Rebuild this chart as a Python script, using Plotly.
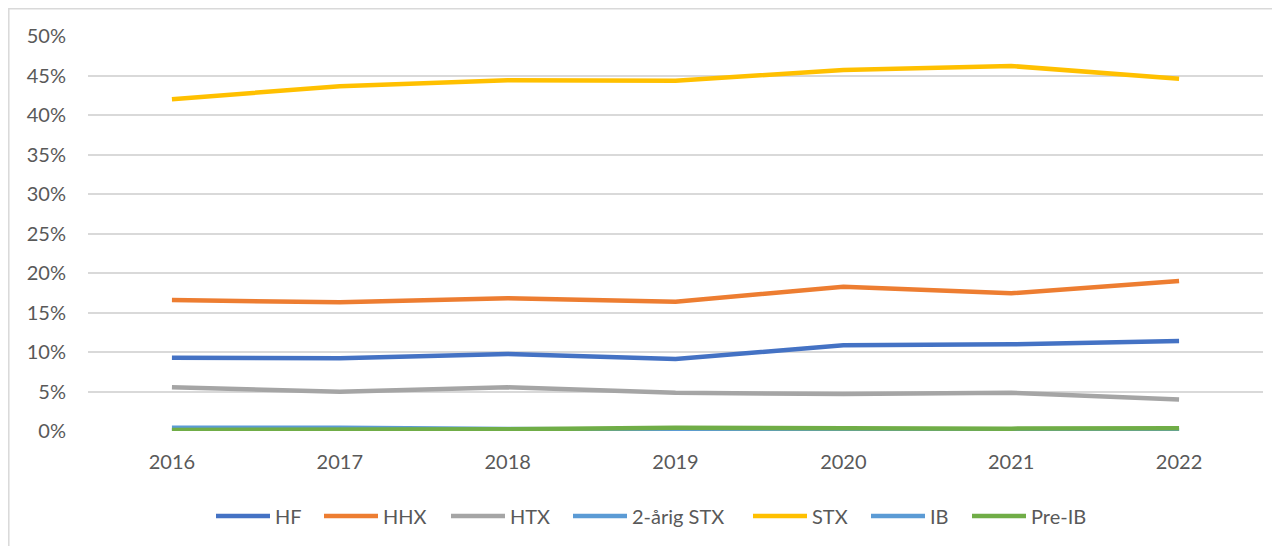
import plotly.graph_objects as go

years = ["2016", "2017", "2018", "2019", "2020", "2021", "2022"]
hf = [0.0928, 0.0920, 0.0975, 0.0910, 0.1084, 0.1098, 0.1139]
hhx = [0.1658, 0.1629, 0.1680, 0.1637, 0.1827, 0.1743, 0.1899]
htx = [0.0553, 0.0498, 0.0553, 0.0485, 0.0468, 0.0485, 0.0400]
stx2 = [0.0040, 0.0040, 0.0025, 0.0012, 0.0010, 0.0010, 0.0010]
stx = [0.4200, 0.4365, 0.4440, 0.4435, 0.4570, 0.4620, 0.4460]
ib = [0.0005, 0.0005, 0.0005, 0.0005, 0.0005, 0.0005, 0.0005]
preib = [0.0012, 0.0015, 0.0022, 0.0040, 0.0030, 0.0030, 0.0035]

names = ["HF", "HHX", "HTX", "2-årig STX", "STX", "IB", "Pre-IB"]
values = [hf, hhx, htx, stx2, stx, ib, preib]
colors = ["#4472C4", "#ED7D31", "#A5A5A5", "#5B9BD5", "#FFC000", "#5B9BD5", "#70AD47"]

FONT = "Lato"
TXT = "#595959"

# figure geometry (page is offset 8px by body margin)
W, H = 1272, 538
L, R, T, B = 80, 17, 28, 115
PW = W - L - R
PH = H - T - B

def px_x(px):
    return (px - 8 - L) / PW

def px_y(py):
    return (H - B - (py - 8)) / PH

fig = go.Figure()
for name, vals, col in zip(names, values, colors):
    fig.add_trace(go.Scatter(x=years, y=vals, name=name, mode="lines",
                             line=dict(color=col, width=4.5), showlegend=False))

# custom legend (page pixel positions of sample start)
leg_sample_x = [216, 324, 451, 573, 753, 871, 972]
leg_sample_w = 54
leg_y = 516
shapes = [dict(type="rect", xref="paper", yref="paper",
               x0=px_x(8.8), x1=1.2, y0=-0.5, y1=px_y(8.8),
               line=dict(color="#D9D9D9", width=1.5), fillcolor="rgba(0,0,0,0)",
               layer="below")]
annotations = []
for name, col, sx in zip(names, colors, leg_sample_x):
    shapes.append(dict(type="line", xref="paper", yref="paper",
                       x0=px_x(sx), x1=px_x(sx + leg_sample_w),
                       y0=px_y(leg_y), y1=px_y(leg_y),
                       line=dict(color=col, width=4.5)))
    annotations.append(dict(xref="paper", yref="paper", x=px_x(sx + leg_sample_w + 3),
                            y=px_y(leg_y), xanchor="left", yanchor="middle",
                            text=name, showarrow=False,
                            font=dict(family=FONT, size=20, color=TXT)))

fig.update_layout(
    width=W, height=H,
    margin=dict(l=L, r=R, t=T, b=B),
    paper_bgcolor="white", plot_bgcolor="white",
    font=dict(family=FONT, size=20, color=TXT),
    showlegend=False,
    xaxis=dict(type="category", range=[-0.5, 6.5], showgrid=False, zeroline=False,
               showline=False, ticks="", tickfont=dict(family=FONT, size=20, color=TXT),
               ticklabelstandoff=17),
    yaxis=dict(range=[0, 0.5], dtick=0.05, tickformat=".0%", showgrid=True,
               gridcolor="#D9D9D9", gridwidth=1.5, zeroline=False, showline=False,
               ticks="", tickfont=dict(family=FONT, size=20, color=TXT),
               ticklabelstandoff=21),
    shapes=shapes,
    annotations=annotations,
)

fig.write_html("out.html")
